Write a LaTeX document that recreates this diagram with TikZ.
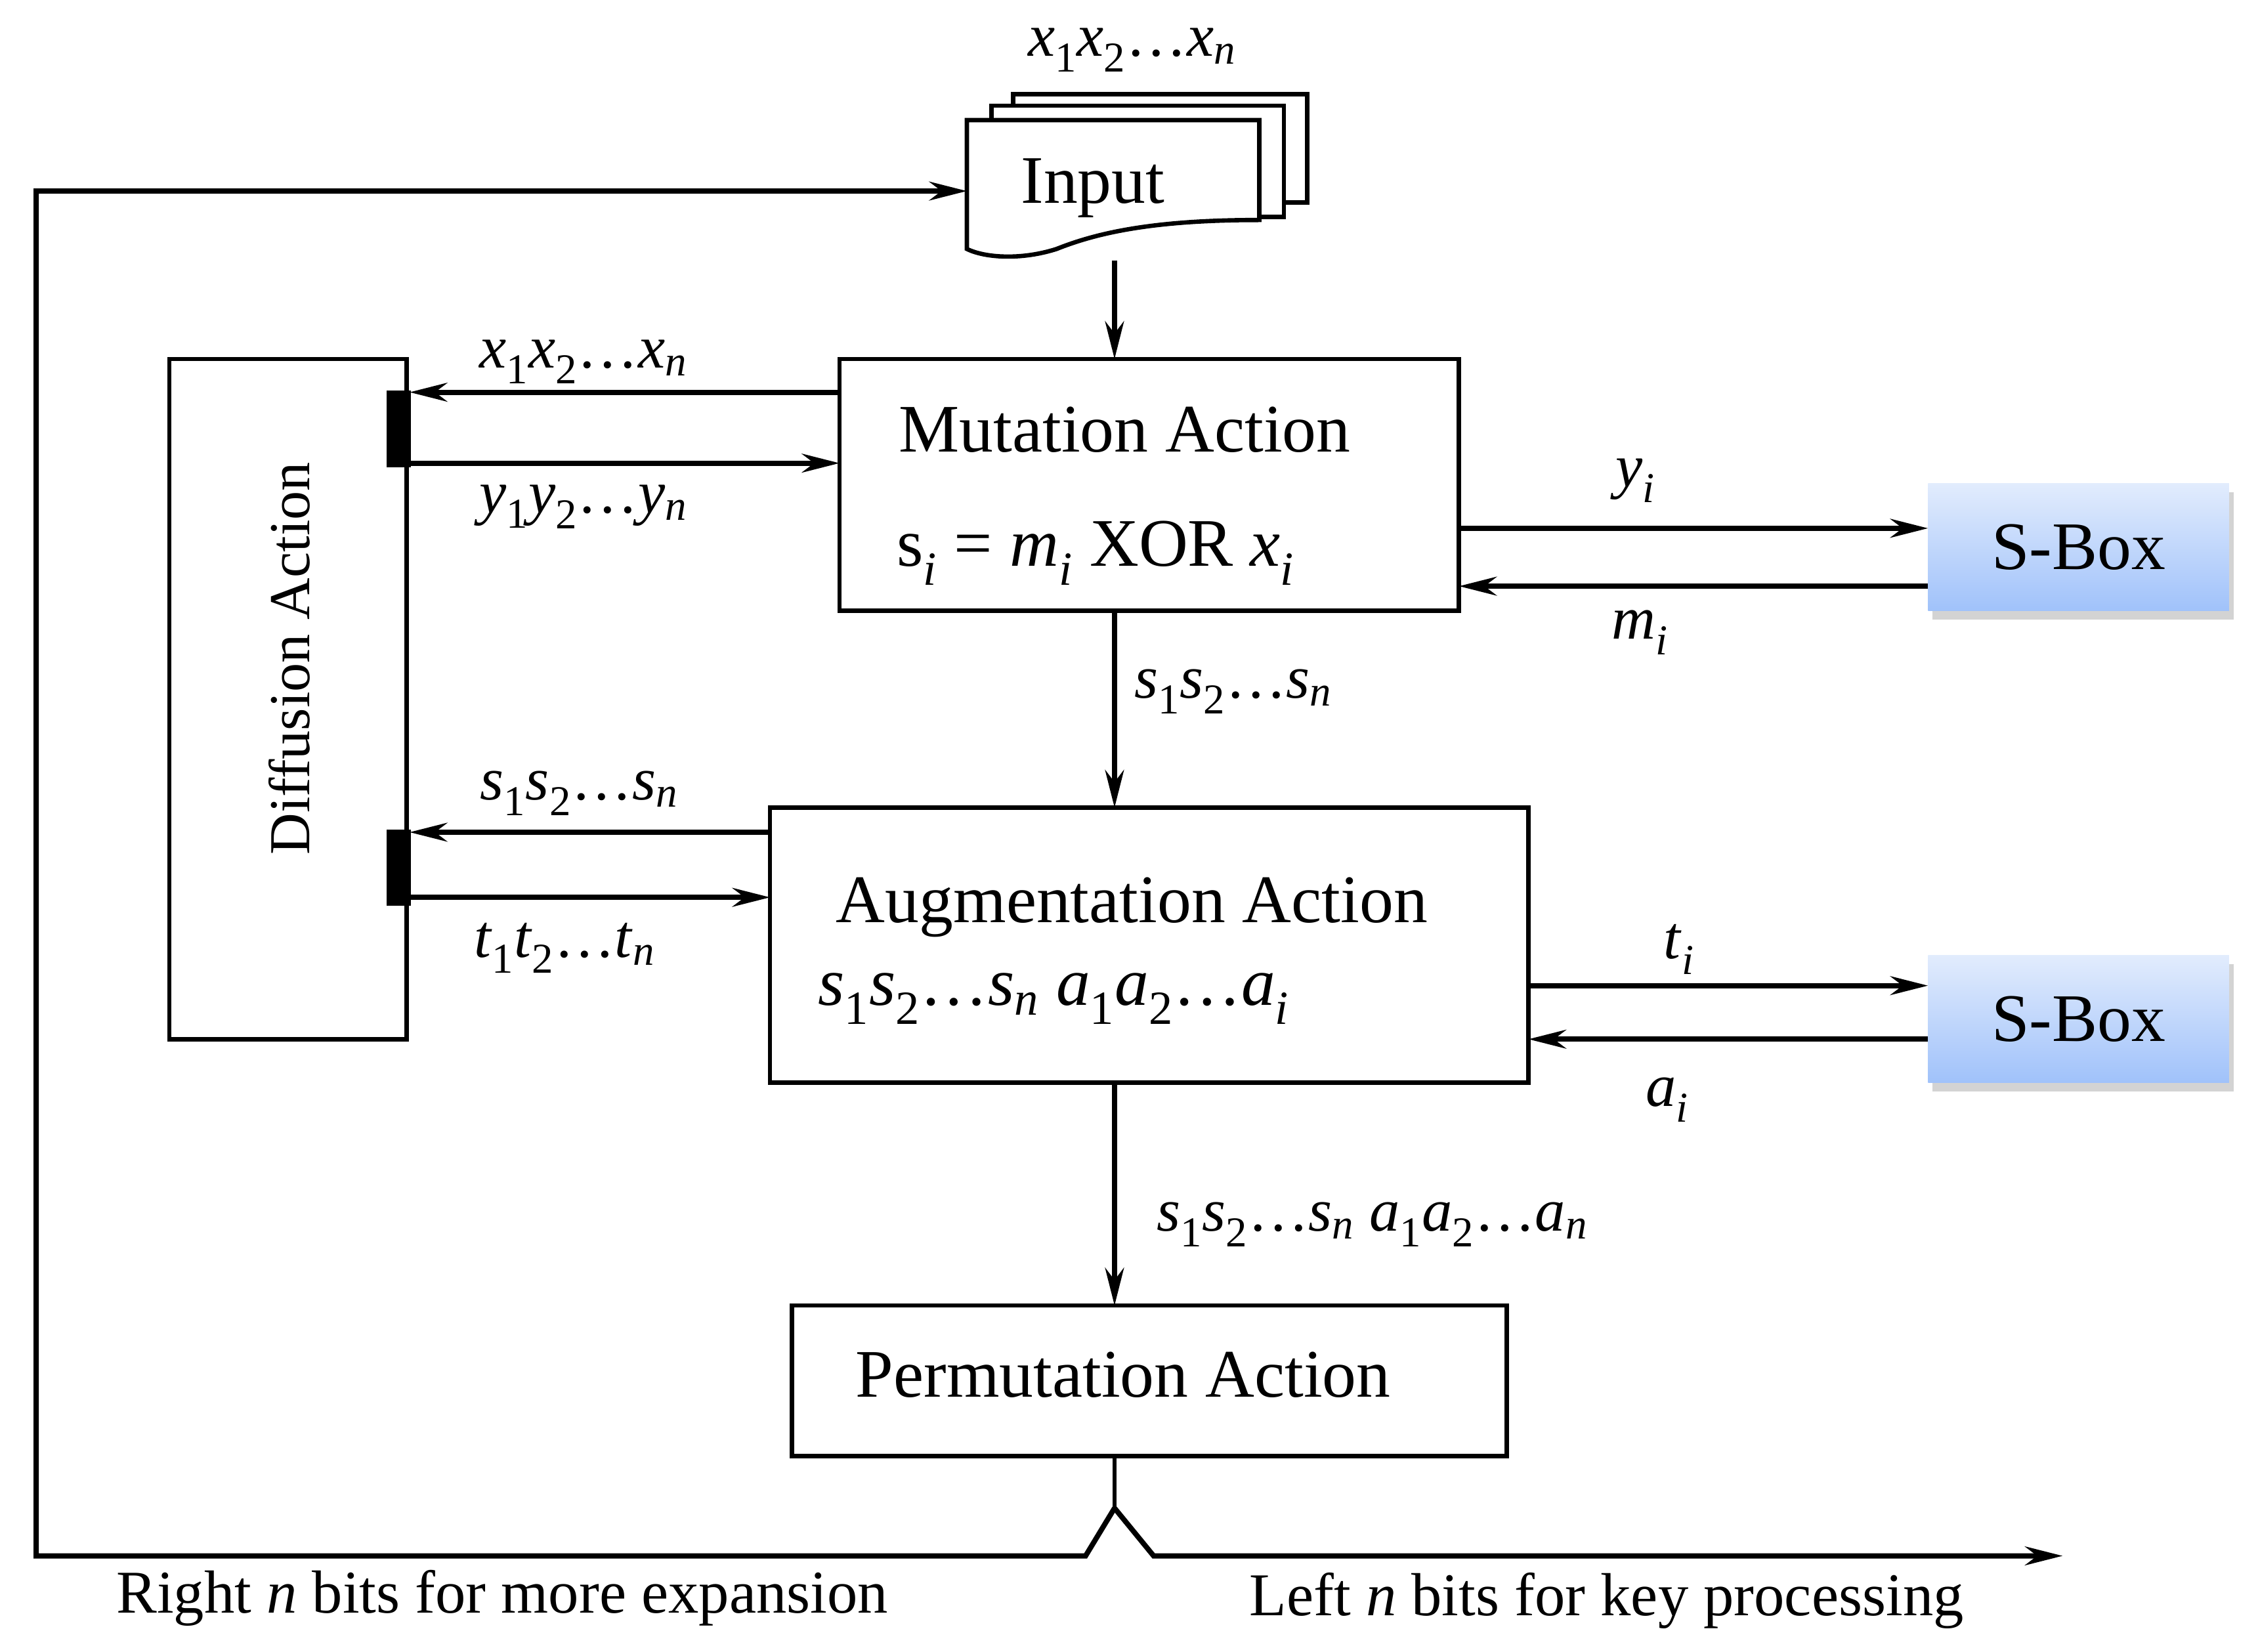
\documentclass[tikz,border=0pt]{standalone}
\usepackage{fontspec}
\setmainfont{Liberation Serif}
\usetikzlibrary{shadows,arrows.meta}
\newcommand{\ii}[1]{\textit{#1}}
\newcommand{\seqq}[1]{\ii{#1}\textsubscript{1}\ii{#1}\textsubscript{2}…\ii{#1}\textsubscript{\ii{n}}}
\newcommand{\seqi}[1]{\ii{#1}\textsubscript{1}\ii{#1}\textsubscript{2}…\ii{#1}\textsubscript{\ii{i}}}
\begin{document}
\begin{tikzpicture}[x=1pt,y=-1pt,
  box/.style={draw,line width=3pt,minimum width=#1,inner sep=0pt},
  lab/.style={font=\fontsize{42}{46}\selectfont,inner sep=0pt},
  dlab/.style={font=\fontsize{40}{44}\selectfont,inner sep=0pt},
  big/.style={font=\fontsize{47}{52}\selectfont,inner sep=0pt},
  arr/.style={line width=3.6pt,-{Stealth[length=26pt,width=13pt]}},
  sbox/.style={minimum width=208pt,minimum height=88pt,top color={rgb,255:red,226;green,236;blue,253},bottom color={rgb,255:red,160;green,194;blue,250},draw=none,drop shadow={shadow xshift=3pt,shadow yshift=-6pt,opacity=0.35},font=\fontsize{47}{52}\selectfont}]
\useasboundingbox (0,0) rectangle (1560,1141);
% input document stack
\draw[line width=3pt,fill=white] (700,65) rectangle (903,140);
\draw[line width=3pt,fill=white] (685,73) rectangle (887,150);
\draw[line width=3pt,fill=white] (668,83) -- (870,83) -- (870,152) .. controls (800,152) and (760,160) .. (730,172) .. controls (705,180) and (680,178) .. (668,172) -- cycle;
\node[big] (input) at (755,130) {Input};
\coordinate (inL) at (668,132);
\coordinate (inB) at (770,180);
\node[lab,anchor=south] (inlab) at (782,50) {\seqq{x}};
% boxes
\node[box=428pt,minimum height=174pt] (mut) at (794,335) {};
\node[big] (mutt) at (777,297) {Mutation Action};
\node[big] (mute) at (757,382) {s\textsubscript{\ii{i}} = \ii{m}\textsubscript{\ii{i}} XOR \ii{x}\textsubscript{\ii{i}}};
\node[box=524pt,minimum height=190pt] (aug) at (794,653) {};
\node[big] (augt) at (782,627) {Augmentation Action};
\node[big] (auge) at (728,690) {\seqq{s} \seqi{a}};
\node[box=494pt,minimum height=104pt] (perm) at (794,954) {};
\node[big] (permt) at (776,950) {Permutation Action};
\node[box=164pt,minimum height=470pt] (diff) at (199,483) {};
\node[dlab,rotate=90] (difft) at (200,455) {Diffusion Action};
\fill (267,270) rectangle (284,323);
\fill (267,573) rectangle (284,626);
\node[sbox] (sb1) at (1436,378) {S-Box};
\node[sbox] (sb2) at (1436,704) {S-Box};
% arrows
\draw[arr] (inB) -- (770,248);
\draw[arr] (580,271) -- (283,271);
\draw[arr] (283,320) -- (580,320);
\node[lab] (l1) at (403,250) {\seqq{x}};
\node[lab] (l2) at (403,350) {\seqq{y}};
\draw[arr] (1008,365) -- (1332,365);
\draw[arr] (1332,405) -- (1008,405);
\node[lab] (l3) at (1130,332) {\ii{y}\textsubscript{\ii{i}}};
\node[lab] (l4) at (1133,437) {\ii{m}\textsubscript{\ii{i}}};
\draw[arr] (770,422) -- (770,558);
\node[lab] (l5) at (852,478) {\seqq{s}};
\draw[arr] (532,575) -- (283,575);
\draw[arr] (283,620) -- (532,620);
\node[lab] (l6) at (400,548) {\seqq{s}};
\node[lab] (l7) at (390,655) {\seqq{t}};
\draw[arr] (1056,681) -- (1332,681);
\draw[arr] (1332,718) -- (1056,718);
\node[lab] (l8) at (1160,656) {\ii{t}\textsubscript{\ii{i}}};
\node[lab] (l9) at (1152,760) {\ii{a}\textsubscript{\ii{i}}};
\draw[arr] (770,748) -- (770,902);
\node[lab] (l10) at (948,846) {\seqq{s} \seqq{a}};
% split
\coordinate (fork) at (770,1042);
\draw[line width=3pt] (770,1006) -- (fork);
\draw[arr] (fork) -- (750,1075) -- (25,1075) -- (25,132) -- (inL);
\draw[arr] (fork) -- (797,1075) -- (1425,1075);
\node[lab] (b1) at (347,1104) {Right \ii{n} bits for more expansion};
\node[lab] (b2) at (1110,1106) {Left \ii{n} bits for key processing};
\end{tikzpicture}
\end{document}
